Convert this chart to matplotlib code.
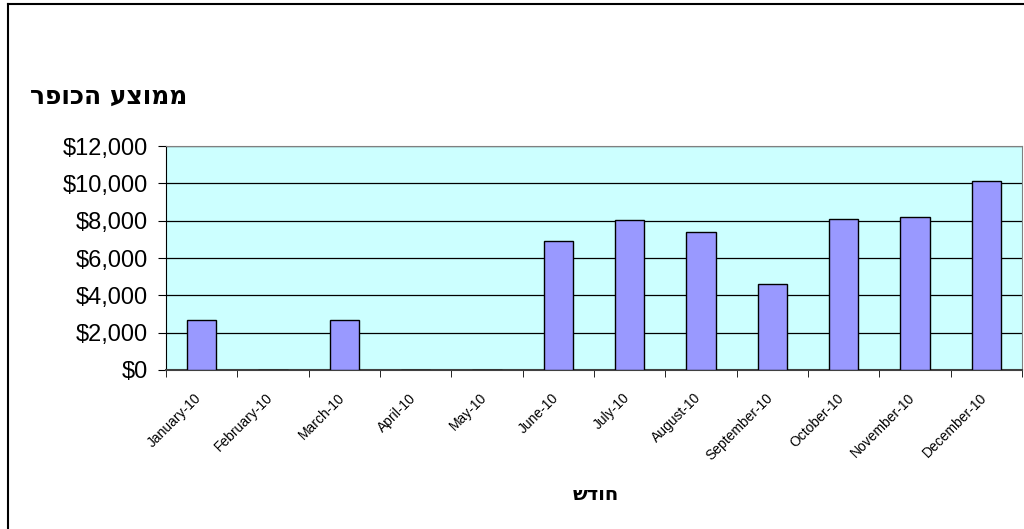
import matplotlib.pyplot as plt
import numpy as np
from matplotlib.lines import Line2D
from matplotlib.ticker import FuncFormatter

# Data
months = ['January-10', 'February-10', 'March-10', 'April-10', 'May-10', 'June-10',
          'July-10', 'August-10', 'September-10', 'October-10', 'November-10', 'December-10']
avg_ransom = [2690, 0, 2690, 0, 0, 6920, 8030, 7390, 4630, 8100, 8170, 10120]

title_text = 'ממוצע הכופר'
xlabel_text = 'חודש'

plt.rcParams['font.family'] = ['Liberation Sans', 'DejaVu Sans']

fig = plt.figure(figsize=(10.24, 5.29), dpi=100)
ax = fig.add_axes([166 / 1024, 1 - 370 / 529, 856 / 1024, 224 / 529])

# Plot area
ax.set_facecolor('#CCFFFF')
x = np.arange(len(months))
ax.bar(x, avg_ransom, width=0.41, color='#9999FF', edgecolor='black', linewidth=1.0, zorder=3)

ax.set_xlim(-0.5, len(months) - 0.5)
ax.set_ylim(0, 12000)
ax.set_yticks(np.arange(0, 12001, 2000))
ax.yaxis.set_major_formatter(FuncFormatter(lambda v, p: f'${int(v):,}'))
ax.grid(axis='y', color='black', linewidth=0.9, zorder=1)

# Excel-style ticks between categories
ax.set_xticks(x - 0.1)
ax.set_xticklabels(months, rotation=45, ha='right', rotation_mode='anchor', fontsize=10)
ax.set_xticks(np.arange(-0.5, len(months), 1), minor=True)
ax.tick_params(axis='x', which='major', length=0, pad=15)
ax.tick_params(axis='x', which='minor', length=5, direction='out', color='black')
ax.tick_params(axis='y', length=6, direction='out', labelsize=17, pad=7)

for side in ['top', 'right']:
    ax.spines[side].set_color('#808080')
ax.spines['left'].set_color('black')
ax.spines['bottom'].set_color('#404040')
ax.spines['bottom'].set_linewidth(1.5)

# Hebrew is drawn right-to-left, so reverse the characters
fig.text(30 / 1024, 1 - 97 / 529, title_text[::-1], fontsize=18, fontweight='bold',
         family='DejaVu Sans', ha='left', va='center')
fig.text(596 / 1024, 1 - 495 / 529, xlabel_text[::-1], fontsize=14, fontweight='bold',
         family='DejaVu Sans', ha='center', va='center')

# Chart border (top and left visible)
fig.add_artist(Line2D([8 / 1024, 1], [1 - 4 / 529, 1 - 4 / 529], color='black', linewidth=1.5,
                      transform=fig.transFigure))
fig.add_artist(Line2D([8 / 1024, 8 / 1024], [0, 1 - 4 / 529], color='black', linewidth=1.5,
                      transform=fig.transFigure))

plt.savefig('out.png', dpi=100)
plt.close()
